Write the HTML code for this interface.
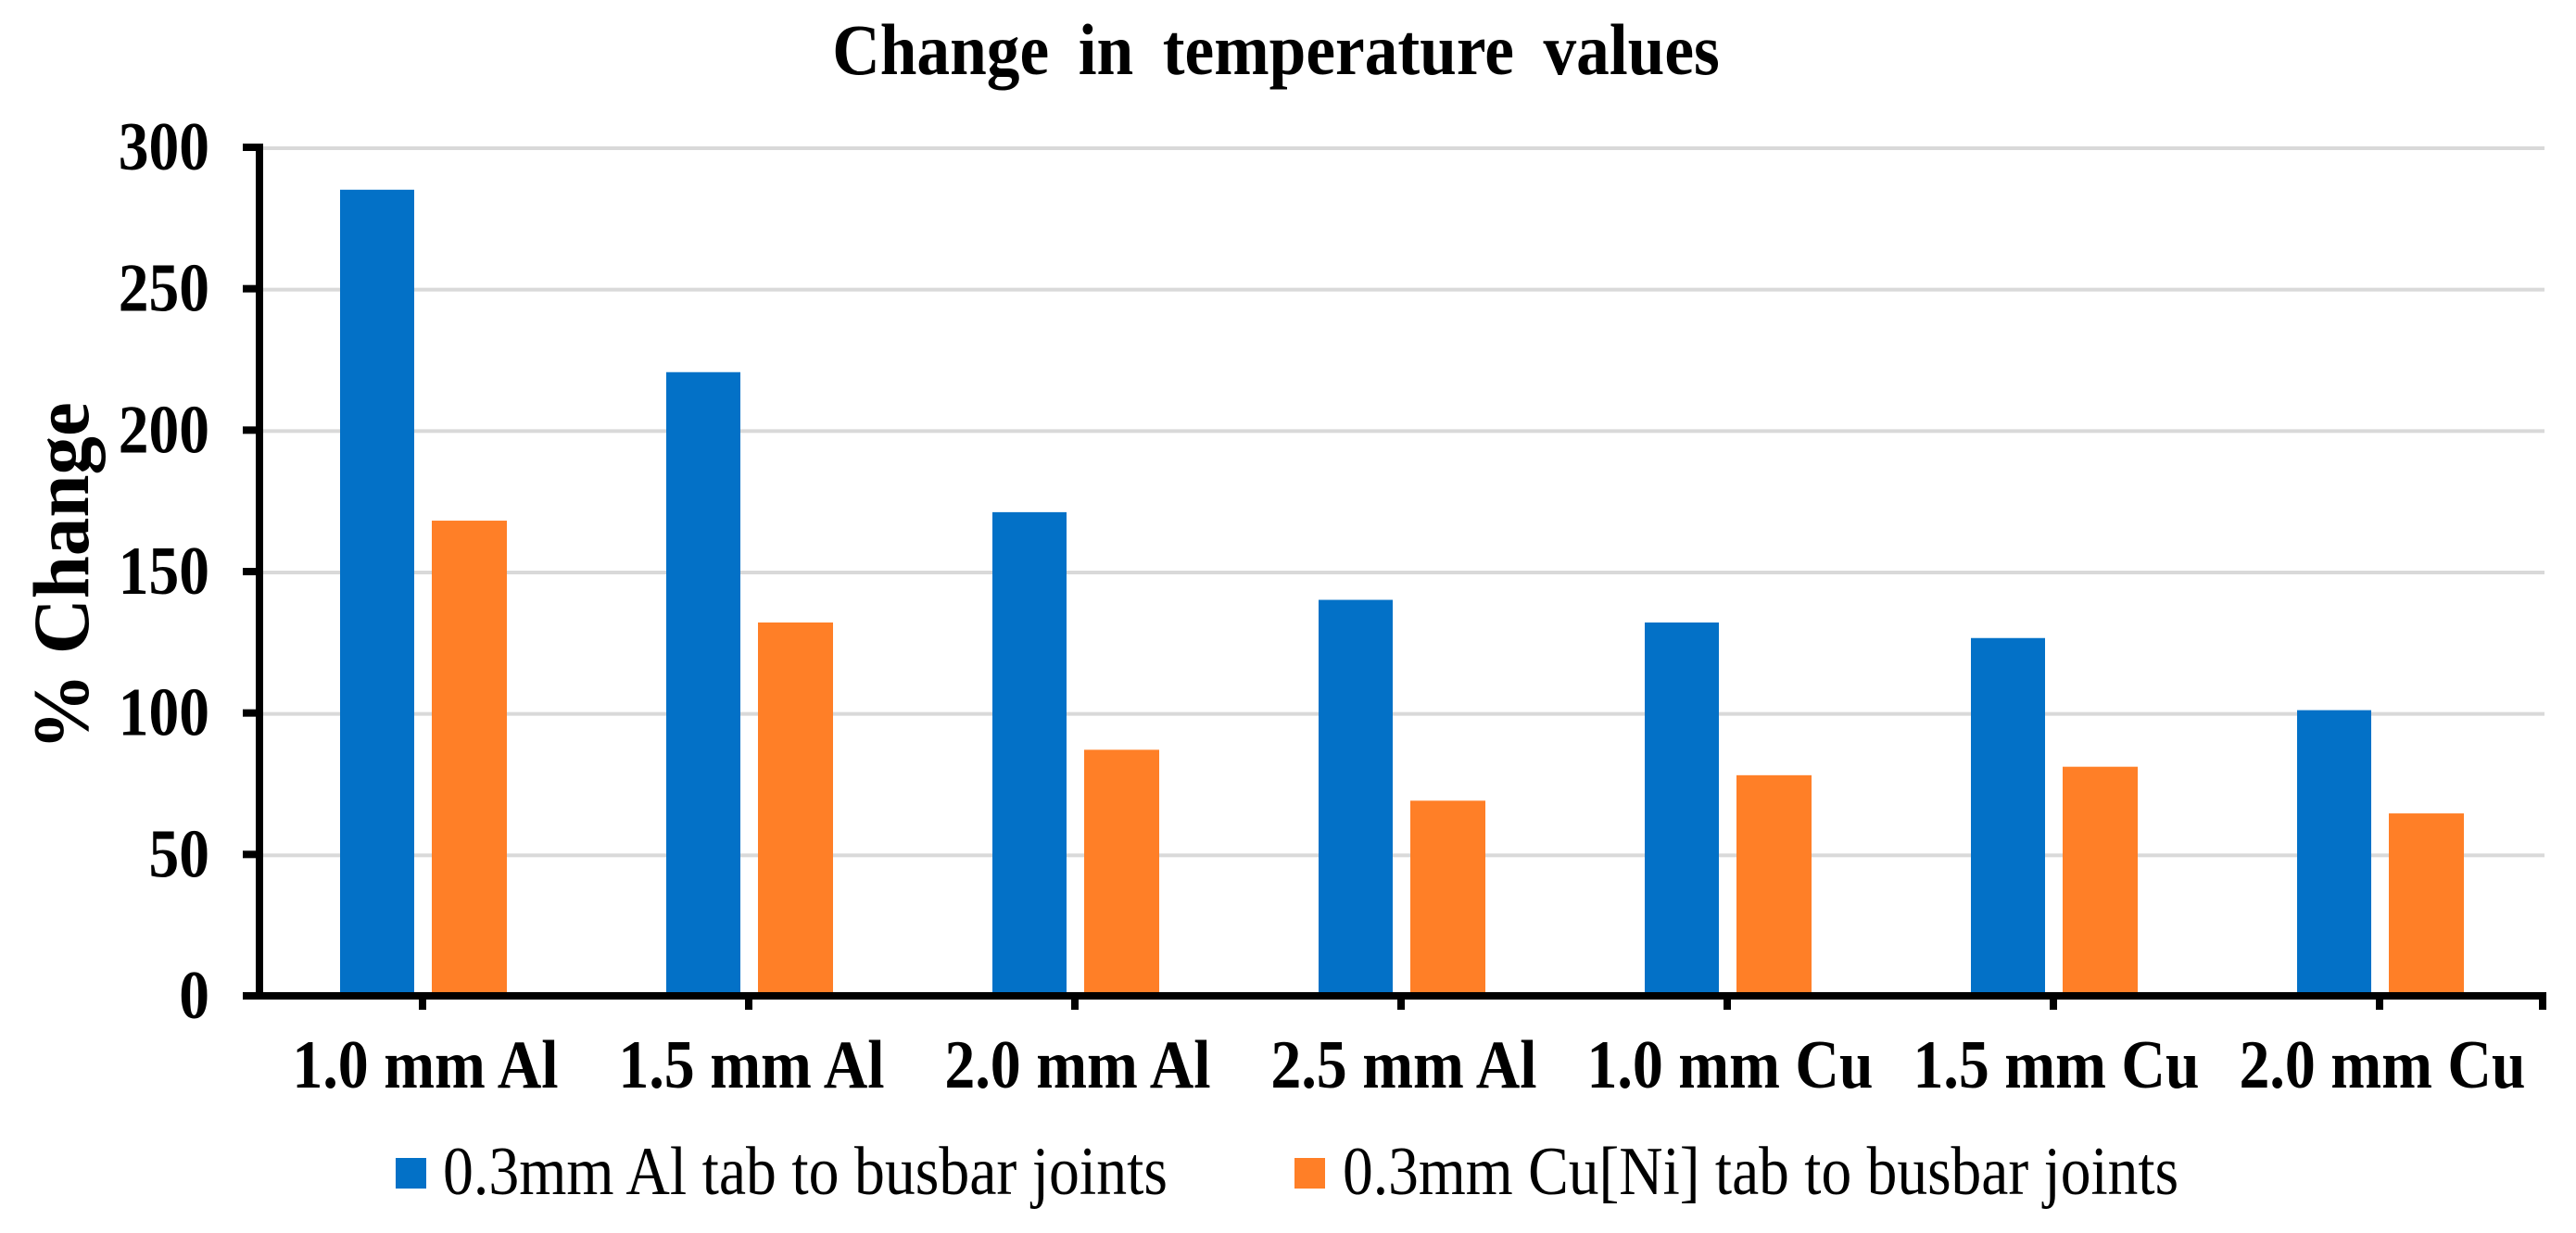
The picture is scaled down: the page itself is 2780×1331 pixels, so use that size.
<!DOCTYPE html>
<html>
<head>
<meta charset="utf-8">
<title>Change in temperature values</title>
<style>
html,body{margin:0;padding:0;background:#fff;}
svg{display:block;font-family:"Liberation Serif",serif;}
</style>
</head>
<body>
<svg id="chart" xmlns="http://www.w3.org/2000/svg" width="2780" height="1331" viewBox="0 0 2780 1331">
  <rect x="0" y="0" width="2780" height="1331" fill="#ffffff"/>
  <text transform="translate(1377,80) scale(0.915,1)" text-anchor="middle" font-size="78" font-weight="700" word-spacing="15" fill="#000">Change in temperature values</text>
  <text transform="translate(95,622) rotate(-90) scale(0.965,1)" text-anchor="middle" font-size="86" font-weight="700" fill="#000">% Change</text>
  <g id="grid"></g>
  <g id="bars"></g>
  <g id="axes"></g>
  <g id="labels"></g>
  <g>
    <rect x="427" y="1250" width="33" height="33" fill="#0371c7"/>
    <text transform="translate(478,1289) scale(0.889,1)" font-size="74" fill="#000">0.3mm Al tab to busbar joints</text>
    <rect x="1397" y="1250" width="33" height="33" fill="#ff7f27"/>
    <text transform="translate(1449,1289) scale(0.885,1)" font-size="74" fill="#000">0.3mm Cu[Ni] tab to busbar joints</text>
  </g>
</svg>
<script>
const categories = ["1.0 mm Al", "1.5 mm Al", "2.0 mm Al", "2.5 mm Al", "1.0 mm Cu", "1.5 mm Cu", "2.0 mm Cu"];
const alTabValues = [285, 220.5, 171, 140, 132, 126.5, 101];
const cuNiTabValues = [168, 132, 87, 69, 78, 81, 64.5];
const yTicks = [0, 50, 100, 150, 200, 250, 300];

const NS = "http://www.w3.org/2000/svg";
const plotLeft = 280, plotRight = 2744, plotBottom = 1075, plotTop = 159, yMax = 300;
const band = (plotRight - plotLeft) / categories.length;
function yScale(v) { return plotBottom - (v / yMax) * (plotBottom - plotTop); }
function xCenter(i) { return plotLeft + band * (i + 0.5); }
function make(tag, attrs, parent) {
  const el = document.createElementNS(NS, tag);
  for (const k in attrs) el.setAttribute(k, attrs[k]);
  parent.appendChild(el);
  return el;
}
const gridG = document.getElementById("grid");
const barsG = document.getElementById("bars");
const axesG = document.getElementById("axes");
const labelsG = document.getElementById("labels");

yTicks.forEach(function (t) {
  if (t !== 0) {
    const line = make("rect", { x: 284, y: yScale(t) - 1, width: 2462, height: 4, fill: "#d9d9d9" }, gridG);
    
    
  }
  const mark = make("rect", { x: 262, y: yScale(t) - 4, width: 18, height: 8, fill: "#000" }, axesG);
  
  
  const label = make("text", { transform: "translate(226," + (yScale(t) + 24) + ") scale(0.885,1)", "text-anchor": "end", "font-size": 74, "font-weight": 700, fill: "#000" }, labelsG);
  label.textContent = String(t);
  
  
});

categories.forEach(function (c, i) {
  const cx = xCenter(i);
  const blue = make("rect", { x: cx - 89, y: yScale(alTabValues[i]), width: 80, height: yScale(0) - yScale(alTabValues[i]), fill: "#0371c7" }, barsG);
  
  
  const orange = make("rect", { x: cx + 10, y: yScale(cuNiTabValues[i]), width: 81, height: yScale(0) - yScale(cuNiTabValues[i]), fill: "#ff7f27" }, barsG);
  
  
  const tick = make("rect", { x: cx - 4, y: plotBottom, width: 8, height: 15, fill: "#000" }, axesG);
  
  
  const label = make("text", { transform: "translate(" + (cx + 3) + ",1174) scale(0.89,1)", "text-anchor": "middle", "font-size": 74, "font-weight": 700, fill: "#000" }, labelsG);
  label.textContent = c;
  
  
});

const endTick = make("rect", { x: plotRight - 4, y: plotBottom, width: 8, height: 15, fill: "#000" }, axesG);


const yAxisLine = make("rect", { x: 276, y: plotTop - 4, width: 8, height: plotBottom - plotTop + 4, fill: "#000" }, axesG);


const xAxisLine = make("rect", { x: 262, y: plotBottom - 4, width: 2486, height: 8, fill: "#000" }, axesG);


</script>
</body>
</html>
